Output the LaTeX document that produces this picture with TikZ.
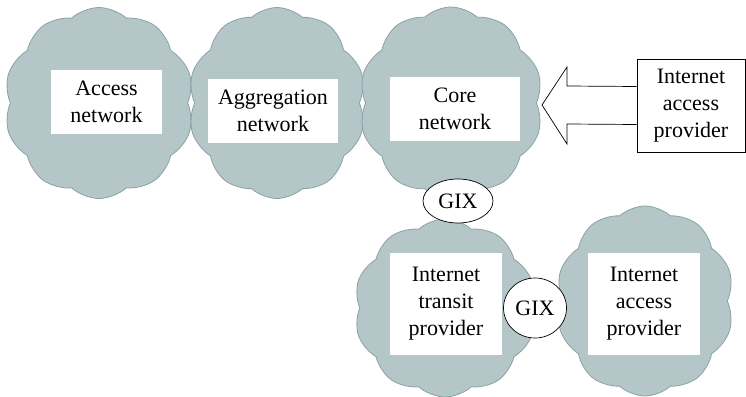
\documentclass[tikz,border=0pt]{standalone}
\usepackage{fontspec}
\setmainfont{Liberation Serif}
\newfontfamily\timesfont{Liberation Serif}
\usetikzlibrary{shapes.symbols,shapes.geometric,calc}
\definecolor{cloudfill}{HTML}{B4C6C8}
\definecolor{cloudline}{HTML}{8AA2A5}
\begin{document}
\begin{tikzpicture}[x=1pt,y=-1pt,
  netcloud/.style={cloud, cloud puffs=10, cloud puff arc=85, aspect=1, fill=cloudfill, draw=cloudline, line width=0.8pt, inner sep=0pt},
  label box/.style={rectangle, fill=white, inner sep=0pt, align=center, font=\timesfont\fontsize{22}{27}\selectfont},
  gix/.style={ellipse, draw=black, fill=white, line width=0.7pt, inner sep=0pt, font=\timesfont\fontsize{22}{25}\selectfont},
  provbox/.style={rectangle, draw=black, fill=white, line width=0.7pt, inner sep=0pt, align=center, font=\timesfont\fontsize{22}{27}\selectfont}]
\useasboundingbox (0,0) rectangle (746,396);
% clouds
\node[netcloud, minimum width=190, minimum height=191] (c1) at (99,103) {};
\node[netcloud, minimum width=178, minimum height=191] (c2) at (277,103) {};
\node[netcloud, minimum width=184, minimum height=192] (c3) at (451,103) {};
\node[netcloud, minimum width=182, minimum height=178] (c4) at (445,308) {};
\node[netcloud, minimum width=178, minimum height=190] (c5) at (645,301) {};
% white labels
\node[label box, minimum width=111, minimum height=64] (t1) at (106.5,102) {Access\\network};
\node[label box, minimum width=130, minimum height=64] (t2) at (273,111) {Aggregation\\network};
\node[label box, minimum width=130, minimum height=64] (t3) at (455,109) {Core\\network};
\node[label box, minimum width=112, minimum height=102] (t4) at (446,304) {Internet\\transit\\provider};
\node[label box, minimum width=112, minimum height=102] (t5) at (644,304) {Internet\\access\\provider};
% GIX
\node[gix, minimum width=70, minimum height=44] (g1) at (458,201) {GIX};
\node[gix, minimum width=63, minimum height=60] (g2) at (535,308) {GIX};
% provider box
\node[provbox, minimum width=108, minimum height=93] (iap) at (691,105.5) {Internet\\access\\provider};
% hollow arrow from provider box to core network
\coordinate (tip) at (542,105);
\draw[line width=0.7pt, fill=white]
  ($(iap.west)+(0,-19)$) -- (567,86) -- (567,67) -- (tip) -- (567,144) -- (567,124) -- ($(iap.west)+(0,19)$);
\end{tikzpicture}
\end{document}
